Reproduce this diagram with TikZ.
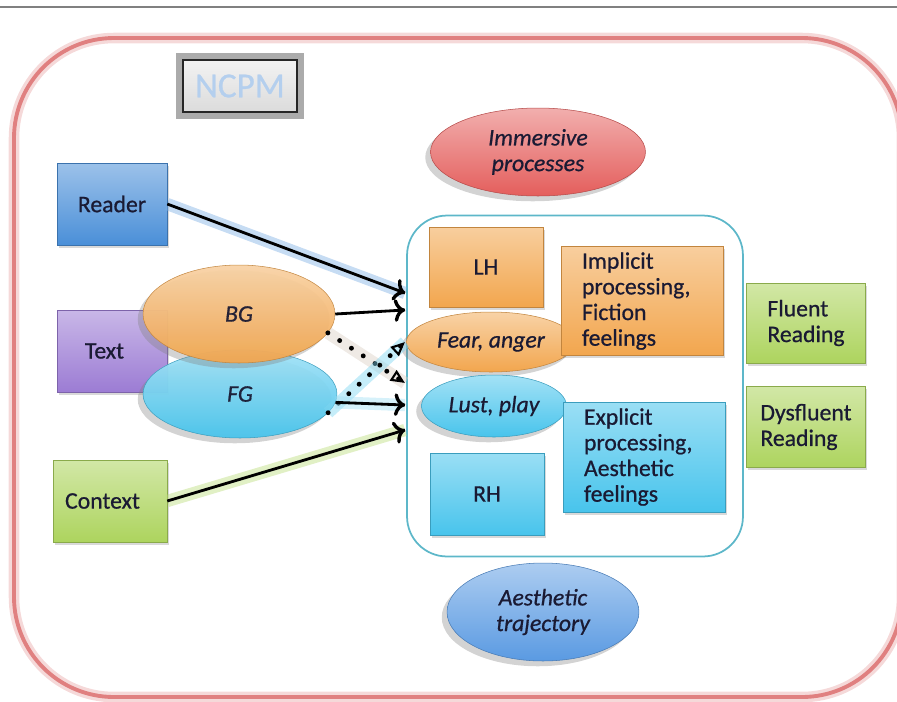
\documentclass[tikz,border=0pt]{standalone}
\usepackage{fontspec}
\setmainfont{Carlito}[FakeBold=0.7]
\usetikzlibrary{shapes.geometric,shadows,decorations.markings,arrows.meta}

\definecolor{ink}{HTML}{1A1A33}
\definecolor{framec}{HTML}{E08080}
\definecolor{readerc}{HTML}{4A8FD8}
\definecolor{textc}{HTML}{9C7CD4}
\definecolor{greenc}{HTML}{ADD45E}
\definecolor{orangec}{HTML}{F2A64E}
\definecolor{cyanc}{HTML}{48C4EC}
\definecolor{redc}{HTML}{E45E5C}
\definecolor{bluec}{HTML}{5A9AE2}
\definecolor{brainc}{HTML}{5DB7C9}
\definecolor{ncpmc}{HTML}{B4CFEE}

\begin{document}
\begin{tikzpicture}[x=0.02cm, y=-0.02cm,
  every node/.style={text=ink, font=\fontsize{13.5}{14.6}\selectfont},
  box/.style={rectangle, draw=#1!80!black, line width=.3pt, top color=#1!55!white, bottom color=#1,
    drop shadow={opacity=.3, shadow xshift=1pt, shadow yshift=-1.5pt}},
  oval/.style={ellipse, draw=#1!80!black, line width=.3pt, top color=#1!50!white, bottom color=#1,
    drop shadow={opacity=.35, shadow xshift=-3pt, shadow yshift=-3pt},
    font=\fontsize{13.5}{14.6}\selectfont\itshape},
  arr/.style={line width=1.6pt, decoration={markings,mark=at position 1 with {\arrow[scale=1.2]{>}}},postaction={decorate}},
  dotarr/.style={line width=2.8pt, line cap=round, dash pattern=on 0pt off 8pt,
    decoration={markings,mark=at position 1 with {\arrow[solid,line width=1.2pt]{Triangle[open,length=8pt,width=7pt]}}},postaction={decorate}},
  glow/.style={preaction={draw=#1, solid, line width=7pt, opacity=.45}}]

\useasboundingbox (0,0) rectangle (897,701);

% page rule and outer frame
\draw[gray, line width=1pt] (0,7) -- (897,7);
\draw[framec!50, line width=6pt, opacity=.6, rounded corners=2cm] (14,38) rectangle (902,697);
\draw[framec, line width=2.2pt, rounded corners=2cm] (14,38) rectangle (902,697);

% title
\node (ncpm) at (240,86) [rectangle, draw=black!85, line width=1pt, top color=gray!10, bottom color=gray!28,
  minimum width=2.28cm, minimum height=1.04cm, preaction={draw=black!60, line width=8pt, opacity=.55},
  text=ncpmc, font=\fontsize{20}{20}\selectfont] {NCPM};

% inputs
\node (reader) at (112,204) [box=readerc, minimum width=2.2cm, minimum height=1.64cm] {Reader};
\node (text) at (112,351) [box=textc, minimum width=2.2cm, minimum height=1.64cm] {\hspace*{-.3cm}Text};
\node (context) at (110,501) [box=greenc, minimum width=2.28cm, minimum height=1.64cm] {\hspace*{-.3cm}Context};
\node (fg) at (240,394) [oval=cyanc, minimum width=3.88cm, minimum height=1.76cm, opacity=.95] {FG\hspace{1.3cm}};
\node (bg) at (239,314) [oval=orangec, minimum width=3.84cm, minimum height=1.96cm, opacity=.95] {BG\hspace{1cm}};

% brain
\node (brain) at (575,386) [rectangle, draw=brainc, line width=1pt, rounded corners=0.8cm,
  minimum width=6.72cm, minimum height=6.82cm] {};
\node (immersive) at (538,152) [oval=redc, minimum width=4.3cm, minimum height=1.76cm, align=center] {Immersive\\processes};
\node (aesthetic) at (543,612) [oval=bluec, minimum width=3.84cm, minimum height=1.96cm, align=center] {Aesthetic\\trajectory};
\node (lh) at (486,267) [box=orangec, minimum width=2.28cm, minimum height=1.6cm] {LH};
\node (fear) at (491,342) [oval=orangec, minimum width=2.72cm, minimum height=1.2cm] {Fear, anger};
\node (lust) at (494,406) [oval=cyanc, minimum width=2.76cm, minimum height=1.24cm] {Lust, play};
\node (rh) at (487,494) [box=cyanc, minimum width=2.28cm, minimum height=1.64cm] {RH};
\node (implicit) at (642,301) [box=orangec, minimum width=3.24cm, minimum height=2.18cm,
  text width=2.4cm, align=left] {Implicit\\processing,\\Fiction\\feelings};
\node (explicit) at (644,457) [box=cyanc, minimum width=3.24cm, minimum height=2.2cm,
  text width=2.4cm, align=left] {Explicit\\processing,\\Aesthetic\\feelings};

% outcomes
\node (fluent) at (806,323) [box=greenc, minimum width=2.38cm, minimum height=1.6cm, align=left] {Fluent\\Reading};
\node (dysfluent) at (806,427) [box=greenc, minimum width=2.38cm, minimum height=1.62cm, align=left] {Dysfluent\\Reading};

% arrow ends on the brain
\coordinate (inReader) at (405,293);
\coordinate (inBG) at (405,310);
\coordinate (inFear) at (405,342);
\coordinate (inLust) at (405,383);
\coordinate (inFG) at (405,405);
\coordinate (inContext) at (405,430);

\draw[arr, glow=readerc!70] (reader.east) -- (inReader);
\draw[arr] (bg.east) -- (inBG);
\draw[dotarr, glow=orangec!35!gray!40] (bg.-12) -- (inLust);
\draw[dotarr, glow=cyanc!70] (fg.-12) -- (inFear);
\draw[arr, glow=cyanc!50] (fg.-5) -- (inFG);
\draw[arr, glow=greenc!80] (context.east) -- (inContext);
\end{tikzpicture}
\end{document}
